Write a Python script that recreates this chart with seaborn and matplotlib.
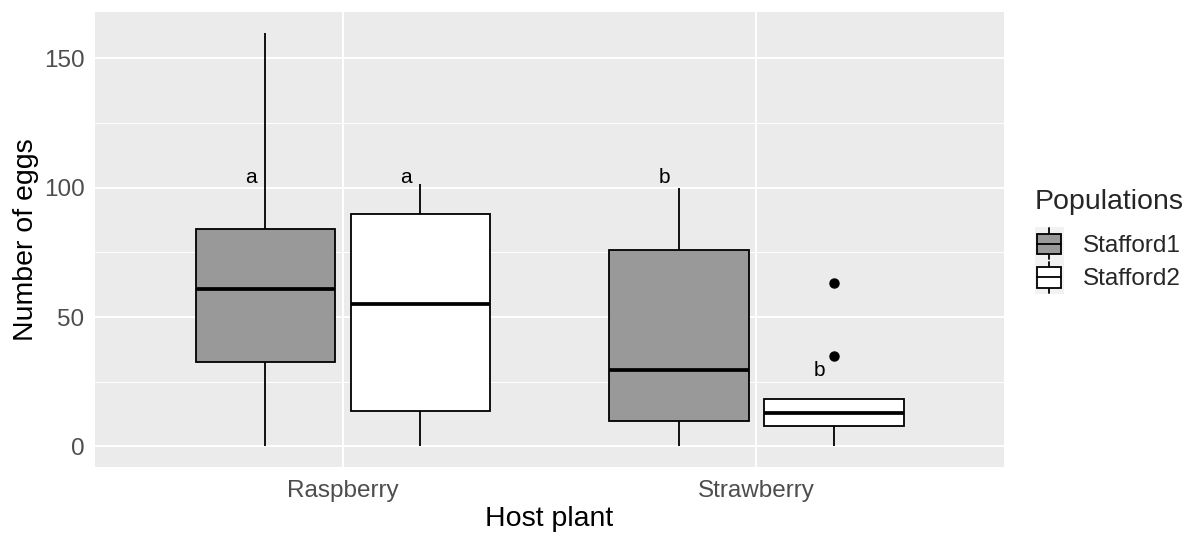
import numpy as np
import pandas as pd
import seaborn as sns
import matplotlib
matplotlib.use("Agg")
import matplotlib.pyplot as plt
from matplotlib.legend_handler import HandlerBase
from matplotlib.patches import Rectangle
from matplotlib.lines import Line2D

# Egg counts per host plant and population
hosts = ["Raspberry", "Strawberry"]
populations = ["Stafford1", "Stafford2"]
rasp_stafford1 = [0, 32.5, 61, 84, 160]
rasp_stafford2 = [0, 13.5, 55, 90, 101.5]
straw_stafford1 = [0, 10, 29.5, 76, 100]
straw_stafford2 = [0, 5, 7.7, 10, 13, 16, 18.5, 35, 63]

# Significance letters and their heights
letters = ["a", "a", "b", "b"]
letter_y = [104, 104, 104, 29.5]

fills = {"Stafford1": "#999999", "Stafford2": "#FFFFFF"}

rows = []
for host, pop, vals in [("Raspberry", "Stafford1", rasp_stafford1),
                        ("Raspberry", "Stafford2", rasp_stafford2),
                        ("Strawberry", "Stafford1", straw_stafford1),
                        ("Strawberry", "Stafford2", straw_stafford2)]:
    for v in vals:
        rows.append({"Host plant": host, "Populations": pop, "eggs": v})
df = pd.DataFrame(rows)

sns.set_theme(style="darkgrid")
plt.rcParams["font.family"] = ["Liberation Sans", "DejaVu Sans"]

fig = plt.figure(figsize=(12, 5.4), dpi=100)
ax = fig.add_axes([0.079, 0.135, 0.758, 0.843])
ax.set_facecolor("#EBEBEB")

sns.boxplot(data=df, x="Host plant", y="eggs", hue="Populations",
            order=hosts, hue_order=populations, palette=fills,
            width=0.75, gap=0.1, dodge=True, saturation=1, legend=False,
            linecolor="black", linewidth=1.3, showcaps=False,
            medianprops=dict(color="black", linewidth=2.7),
            flierprops=dict(marker="o", markerfacecolor="black",
                            markeredgecolor="black", markersize=6.5),
            ax=ax, zorder=3)

# Letters over each box
offsets = [-0.1875, 0.1875]
k = 0
for i, host in enumerate(hosts):
    for j, pop in enumerate(populations):
        ax.text(i + offsets[j] - 0.034, letter_y[k], letters[k],
                ha="center", va="center", fontsize=15, color="black", zorder=4)
        k += 1

ax.set_xlim(-0.6, 1.6)
ax.set_ylim(-8, 168)
ax.set_yticks([0, 50, 100, 150])
ax.set_yticks([25, 75, 125], minor=True)
ax.grid(True, which="major", color="white", linewidth=1.4)
ax.grid(True, which="minor", axis="y", color="white", linewidth=0.7)
ax.set_axisbelow(True)
for s in ax.spines.values():
    s.set_visible(False)
ax.tick_params(axis="both", which="major", length=4.5, width=1.0,
               color="#333333", labelcolor="#4D4D4D", labelsize=17.5, pad=3)
ax.tick_params(axis="x", which="major", pad=5)
ax.tick_params(axis="both", which="minor", length=0)
ax.set_xlabel("Host plant", fontsize=20.5, color="black", labelpad=3)
ax.set_ylabel("Number of eggs", fontsize=20.5, color="black", labelpad=3)


class BoxKey(HandlerBase):
    def create_artists(self, legend, orig_handle, xdescent, ydescent,
                       width, height, fontsize, trans):
        fc = orig_handle.get_facecolor()
        x0, y0 = -xdescent, -ydescent
        bg = Rectangle((x0, y0), width, height, facecolor="#F2F2F2",
                       edgecolor="none", transform=trans)
        bw = width * 0.84
        bx = x0 + (width - bw) / 2
        by = y0 + height * 0.2
        bh = height * 0.6
        box = Rectangle((bx, by), bw, bh, facecolor=fc, edgecolor="black",
                        linewidth=1.3, transform=trans)
        cx = x0 + width / 2
        w1 = Line2D([cx, cx], [y0 + height * 0.04, by], color="black",
                    linewidth=1.3, transform=trans)
        w2 = Line2D([cx, cx], [by + bh, y0 + height * 0.96], color="black",
                    linewidth=1.3, transform=trans)
        med = Line2D([bx, bx + bw], [by + bh / 2, by + bh / 2], color="black",
                     linewidth=1.3, transform=trans)
        return [bg, w1, w2, box, med]


handles = [Rectangle((0, 0), 1, 1, facecolor=fills[p]) for p in populations]
leg = fig.legend(handles, populations, title="Populations",
                 handler_map={Rectangle: BoxKey()},
                 loc="center left", bbox_to_anchor=(0.852, 0.553),
                 frameon=False, fontsize=17.5, title_fontsize=20.5,
                 handlelength=1.2, handleheight=1.75, handletextpad=0.8,
                 labelspacing=0.0, borderpad=0, alignment="left")
leg._legend_box.sep = 9

fig.savefig("out.png", dpi=100)
